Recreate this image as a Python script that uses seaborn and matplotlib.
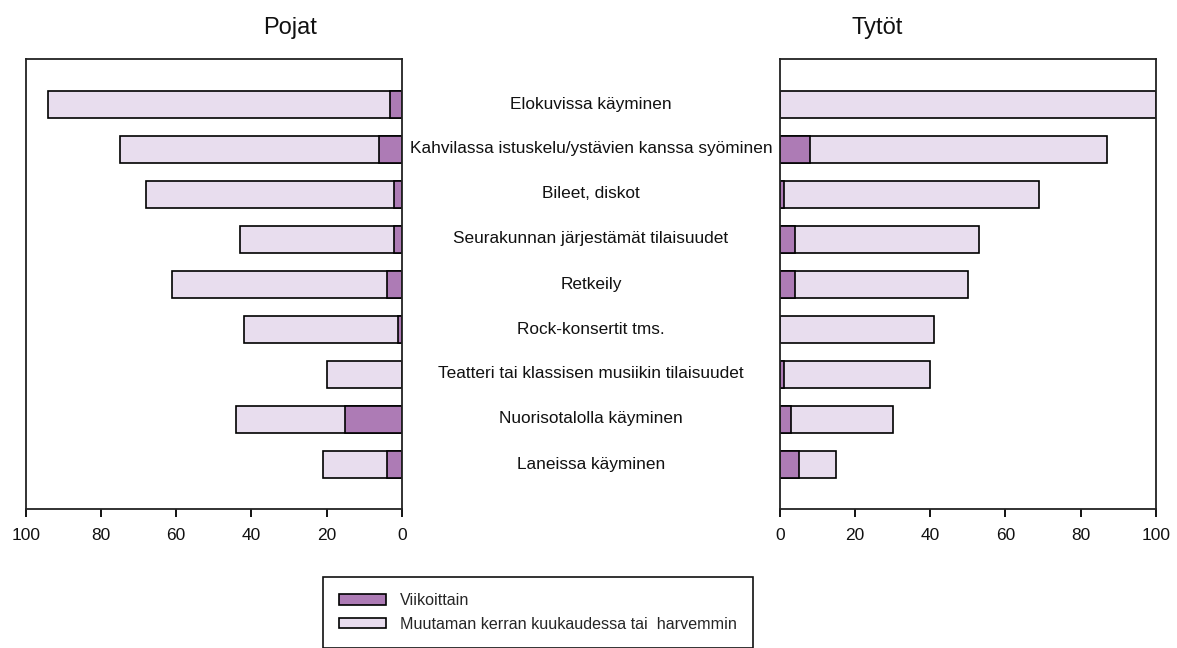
import seaborn as sns
import matplotlib.pyplot as plt
import matplotlib.patches as mpatches
import matplotlib.transforms as mtransforms
import pandas as pd

categories = ["Elokuvissa käyminen",
              "Kahvilassa istuskelu/ystävien kanssa syöminen",
              "Bileet, diskot",
              "Seurakunnan järjestämät tilaisuudet",
              "Retkeily",
              "Rock-konsertit tms.",
              "Teatteri tai klassisen musiikin tilaisuudet",
              "Nuorisotalolla käyminen",
              "Laneissa käyminen"]

# Pojat: weekly share and total (weekly + a few times a month or less)
boys_weekly = [3, 6, 2, 2, 4, 1, 0, 15, 4]
boys_total = [94, 75, 68, 43, 61, 42, 20, 44, 21]

# Tytöt
girls_weekly = [0, 8, 1, 4, 4, 0, 1, 3, 5]
girls_total = [100, 87, 69, 53, 50, 41, 40, 30, 15]

ticks = [0, 20, 40, 60, 80, 100]

dark = "#ad7bb5"
light = "#e8ddee"

boys_df = pd.DataFrame({"cat": categories, "weekly": boys_weekly, "total": boys_total})
girls_df = pd.DataFrame({"cat": categories, "weekly": girls_weekly, "total": girls_total})

sns.set_theme(style="white")
plt.rcParams["font.family"] = ["Liberation Sans", "DejaVu Sans"]

fig = plt.figure(figsize=(11.77, 6.48), dpi=100)
ax_b = fig.add_axes([25.7 / 1177, 139 / 648, 376 / 1177, 450 / 648])
ax_g = fig.add_axes([780 / 1177, 139 / 648, 375.7 / 1177, 450 / 648])

for ax, d in [(ax_b, boys_df), (ax_g, girls_df)]:
    sns.barplot(data=d, x="total", y="cat", color=light, edgecolor="black",
                linewidth=1.2, width=0.6, orient="h", ax=ax, saturation=1)
    sns.barplot(data=d, x="weekly", y="cat", color=dark, edgecolor="black",
                linewidth=1.2, width=0.6, orient="h", ax=ax, saturation=1)
    ax.set_ylim(9, -1)
    ax.set_yticks([])
    ax.set_xticks(ticks)
    ax.set_xlabel("")
    ax.set_ylabel("")
    ax.tick_params(axis="x", bottom=True, direction="out", length=6, width=1.3,
                   color="black", labelsize=12.5, pad=8, labelcolor="#111111")
    for s in ax.spines.values():
        s.set_color("#222222")
        s.set_linewidth(1.3)

ax_b.set_xlim(100, 0)
ax_g.set_xlim(0, 100)

fig.text(290 / 1177, 1 - 28 / 648, "Pojat", ha="center", va="center", fontsize=17, color="#111111")
fig.text(877 / 1177, 1 - 28 / 648, "Tytöt", ha="center", va="center", fontsize=17, color="#111111")

trans = mtransforms.blended_transform_factory(fig.transFigure, ax_b.transData)
for i, c in enumerate(categories):
    fig.text(591 / 1177, i, c, transform=trans, ha="center", va="center",
             fontsize=12.4, color="#111111")

handles = [mpatches.Patch(facecolor=dark, edgecolor="black", linewidth=1.2, label="Viikoittain"),
           mpatches.Patch(facecolor=light, edgecolor="black", linewidth=1.2,
                          label="Muutaman kerran kuukaudessa tai  harvemmin")]
leg = fig.legend(handles=handles, loc="upper left", bbox_to_anchor=(323 / 1177, 1 - 577 / 648),
                 borderaxespad=0, frameon=True, fancybox=False, framealpha=1,
                 fontsize=11.6, handlelength=2.9, handleheight=0.6, handletextpad=0.9,
                 labelspacing=0.55, borderpad=1.0)
leg.get_frame().set_edgecolor("#111111")
leg.get_frame().set_linewidth(1.2)

fig.savefig("out.png", dpi=100)
